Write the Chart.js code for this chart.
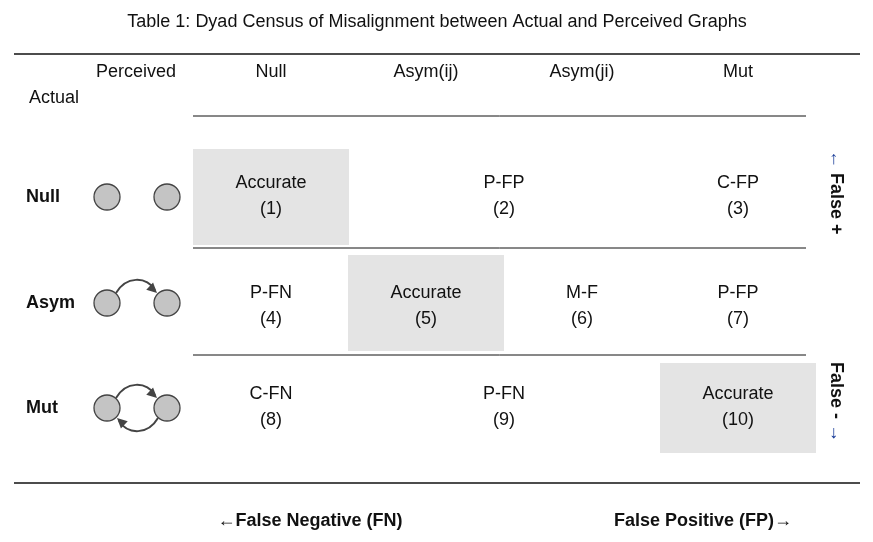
<!DOCTYPE html>
<html>
<head>
<meta charset="utf-8">
<script src="https://cdn.jsdelivr.net/npm/chart.js@4"></script>
<style>
  body { margin: 0; background: #fff; }
  #wrap { width: 873px; height: 542px; }
</style>
</head>
<body>
<div id="wrap"><canvas id="c" width="873" height="542"></canvas></div>
<script>
// table content
const title = 'Table 1: Dyad Census of Misalignment between Actual and Perceived Graphs'
const colLabels = ['Null', 'Asym(ij)', 'Asym(ji)', 'Mut']
const rowLabels = ['Null', 'Asym', 'Mut']
const cellLabels = [
    ['Accurate', 'P-FP', 'P-FP', 'C-FP'],
    ['P-FN', 'Accurate', 'M-F', 'P-FP'],
    ['C-FN', 'P-FN', 'P-FN', 'Accurate'],
]
const cellNumbers = [
    ['(1)', '(2)', '(2)', '(3)'],
    ['(4)', '(5)', '(6)', '(7)'],
    ['(8)', '(9)', '(9)', '(10)'],
]
// which cells are merged (span two columns) and which are shaded
const merged = [[1, 2], null, [1, 2]]
const accurate = [[0, 0], [1, 1], [2, 3]]

// layout (pixel coords in a 873x542 value space)
const colX = [271, 426, 582, 738]
const rowY = [197, 303, 408]
const nodeX = [107, 167]
const font = '"Liberation Sans", Arial, sans-serif'
const fs = 18

const nodePoints = []
rowY.forEach(y => nodeX.forEach(x => nodePoints.push({ x: x, y: y })))

const text = (ctx, s, x, y, size, bold, color, align) => {
    ctx.font = (bold ? 'bold ' : '') + size + 'px ' + font
    ctx.fillStyle = color || '#111'
    ctx.textAlign = align || 'center'
    ctx.textBaseline = 'middle'
    ctx.fillText(s, x, y)
}
const hline = (ctx, sx, sy, x1, x2, y, w) => {
    ctx.beginPath()
    ctx.lineWidth = w
    ctx.strokeStyle = '#111'
    ctx.moveTo(sx(x1), sy(y))
    ctx.lineTo(sx(x2), sy(y))
    ctx.stroke()
}
const arrowHead = (ctx, x, y, ang) => {
    ctx.save()
    ctx.translate(x, y)
    ctx.rotate(ang)
    ctx.beginPath()
    ctx.moveTo(0, 0)
    ctx.lineTo(-10, -5)
    ctx.lineTo(-10, 5)
    ctx.closePath()
    ctx.fillStyle = '#444'
    ctx.fill()
    ctx.restore()
}

const tablePlugin = {
    id: 'table',
    beforeDatasetsDraw(chart) {
        const ctx = chart.ctx
        const sx = v => chart.scales.x.getPixelForValue(v)
        const sy = v => chart.scales.y.getPixelForValue(v)
        ctx.save()
        // shaded accurate cells
        ctx.fillStyle = '#e4e4e4'
        accurate.forEach(([r, c]) => {
            const h = r === 2 ? 45 : 48
            ctx.fillRect(sx(colX[c] - 78), sy(rowY[r] - h), sx(colX[c] + 78) - sx(colX[c] - 78), sy(rowY[r] + h) - sy(rowY[r] - h))
        })
        // arrows between nodes
        ctx.strokeStyle = '#444'
        ctx.lineWidth = 2
        ctx.beginPath()
        ctx.moveTo(sx(116), sy(293))
        ctx.bezierCurveTo(sx(126), sy(276), sx(146), sy(276), sx(155), sy(290))
        ctx.stroke()
        arrowHead(ctx, sx(157), sy(293), 0.75)
        ctx.beginPath()
        ctx.moveTo(sx(116), sy(398))
        ctx.bezierCurveTo(sx(126), sy(381), sx(146), sy(381), sx(155), sy(395))
        ctx.stroke()
        arrowHead(ctx, sx(157), sy(398), 0.75)
        ctx.beginPath()
        ctx.moveTo(sx(158), sy(418))
        ctx.bezierCurveTo(sx(148), sy(435), sx(128), sy(435), sx(119), sy(421))
        ctx.stroke()
        arrowHead(ctx, sx(117), sy(418), 0.75 + Math.PI)
        ctx.restore()
    },
    afterDatasetsDraw(chart) {
        const ctx = chart.ctx
        const sx = v => chart.scales.x.getPixelForValue(v)
        const sy = v => chart.scales.y.getPixelForValue(v)
        ctx.save()
        text(ctx, title, sx(437), sy(22), fs, false)
        hline(ctx, sx, sy, 14, 860, 54, 1.3)
        text(ctx, 'Perceived', sx(136), sy(72), fs, false)
        text(ctx, 'Actual', sx(54), sy(98), fs, false)
        colLabels.forEach((s, i) => text(ctx, s, sx(colX[i]), sy(72), fs, false))
        hline(ctx, sx, sy, 193, 806, 116, 1)
        hline(ctx, sx, sy, 193, 806, 248, 1)
        hline(ctx, sx, sy, 193, 806, 355, 1)
        rowLabels.forEach((s, r) => text(ctx, s, sx(26), sy(rowY[r]), fs, true, '#111', 'left'))
        cellLabels.forEach((row, r) => {
            row.forEach((s, c) => {
                const m = merged[r]
                if (m && c === m[1]) return
                let x = colX[c]
                if (m && c === m[0]) x = (colX[m[0]] + colX[m[1]]) / 2
                const dy = r === 1 ? 3 : -1
                text(ctx, s, sx(x), sy(rowY[r] - 13 + dy), fs, false)
                text(ctx, cellNumbers[r][c], sx(x), sy(rowY[r] + 13 + dy), fs, false)
            })
        })
        hline(ctx, sx, sy, 14, 860, 483, 1.3)
        text(ctx, '\u2190False Negative (FN)', sx(310), sy(521), fs, true)
        text(ctx, 'False Positive (FP)\u2192', sx(703), sy(521), fs, true)
        // right-side rotated notes
        ctx.translate(sx(836), sy(198))
        ctx.rotate(Math.PI / 2)
        ctx.font = 'bold ' + fs + 'px ' + font
        ctx.textBaseline = 'middle'
        ctx.textAlign = 'left'
        ctx.fillStyle = '#1a3d99'
        ctx.fillText('\u2190', -48, 0)
        ctx.fillStyle = '#111'
        ctx.fillText(' False +', -48 + ctx.measureText('\u2190').width, 0)
        ctx.restore()
        ctx.save()
        ctx.translate(sx(836), sy(407))
        ctx.rotate(Math.PI / 2)
        ctx.font = 'bold ' + fs + 'px ' + font
        ctx.textBaseline = 'middle'
        ctx.textAlign = 'left'
        ctx.fillStyle = '#111'
        ctx.fillText('False - ', -45, 0)
        ctx.fillStyle = '#1a3d99'
        ctx.fillText('\u2192', -45 + ctx.measureText('False - ').width, 0)
        ctx.restore()
    }
}

new Chart(document.getElementById('c'), {
    type: 'scatter',
    data: {
        datasets: [{
            data: nodePoints,
            pointRadius: 13,
            pointHoverRadius: 13,
            backgroundColor: '#c4c4c4',
            borderColor: '#444',
            borderWidth: 1.3,
        }]
    },
    options: {
        responsive: false,
        animation: false,
        layout: { padding: 0, autoPadding: false },
        plugins: { legend: { display: false }, tooltip: { enabled: false } },
        scales: {
            x: { type: 'linear', display: false, min: 0, max: 873 },
            y: { type: 'linear', display: false, min: 0, max: 542, reverse: true },
        }
    },
    plugins: [tablePlugin]
})
</script>
</body>
</html>
